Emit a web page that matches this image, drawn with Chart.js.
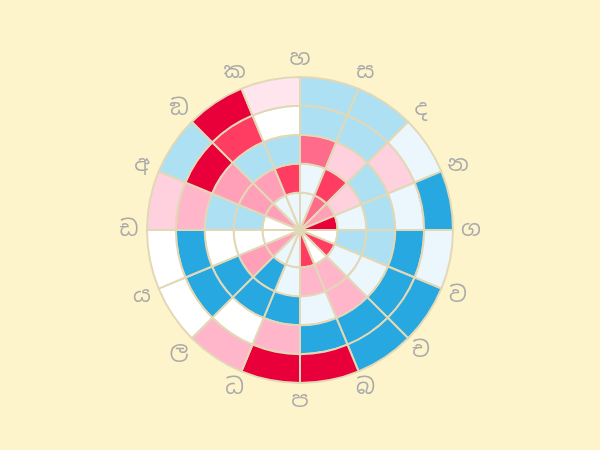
<!DOCTYPE html>
<html>
<head>
<meta charset="utf-8">
<script src="https://cdn.jsdelivr.net/npm/chart.js@4.4.1/dist/chart.umd.min.js"></script>
<style>
  html, body { margin: 0; padding: 0; background: #fef4cc; }
  #wrap { width: 600px; height: 450px; }
</style>
</head>
<body>
<div id="wrap"><canvas id="chart"></canvas></div>
<script>
// sector labels, clockwise from the top
const sectors = ['හ', 'ස', 'ද', 'න', 'ග', 'ව', 'ච', 'බ', 'ප', 'ධ', 'ල', 'ය', 'ඩ', 'අ', 'ඞ', 'ක'];

// cell levels per ring (-7 .. 3), outer ring first
const ring5 = [2, 2, 1, 3, 1, 3, 3, -7, -7, -3, 0, 0, -2, 2, -7, -1];
const ring4 = [2, 2, -2, 1, 3, 3, 3, 3, -3, 0, 3, 3, -3, -7, -6, 0];
const ring3 = [-5, -2, 2, 2, 2, 1, -3, 1, 3, 3, 3, 0, 2, -4, 2, 2];
const ring2 = [1, -6, -2, 1, 2, 1, -3, -3, 1, 3, -4, 0, 2, -4, -4, -6];
const ring1 = [1, -5, -4, -7, 0, -6, 0, -6, 1, 1, -4, 0, 0, -4, 1, 1];

// colour for each level, from -7 up to 3
const levelColors = ['#e9003a', '#ff3d63', '#ff6b8b', '#ff9fb8', '#ffb6ca', '#ffd0de',
                     '#ffe6ee', '#ffffff', '#ebf6fd', '#aee0f4', '#27a8e0'];

function ringDataset(vals, weight) {
    return {
        data: vals.map(() => 1),
        backgroundColor: vals.map(v => levelColors[v + 7]),
        borderColor: '#e2d8b6',
        borderWidth: 2,
        weight: weight
    };
}

// labels round the outside, one on each sector line
const sectorLabels = {
    id: 'sectorLabels',
    afterDraw(chart) {
        let meta = chart.getDatasetMeta(0);
        if (!meta.data.length) return;
        let arc = meta.data[0];
        let ctx = chart.ctx;
        let r = arc.outerRadius + 18;
        ctx.save();
        ctx.fillStyle = '#aaaaaa';
        ctx.font = '22px "Noto Sans Sinhala", "Noto Sans", sans-serif';
        ctx.textAlign = 'center';
        ctx.textBaseline = 'middle';
        sectors.forEach(function(label, i) {
            let a = meta.data[i].startAngle;
            ctx.fillText(label, arc.x + Math.cos(a) * r, arc.y + Math.sin(a) * r);
        });
        ctx.restore();
    }
};

new Chart(document.getElementById('chart'), {
    type: 'doughnut',
    data: {
        labels: sectors,
        datasets: [
            ringDataset(ring5, 1),
            ringDataset(ring4, 1),
            ringDataset(ring3, 1),
            ringDataset(ring2, 1),
            ringDataset(ring1, 1.3)
        ]
    },
    options: {
        responsive: true,
        maintainAspectRatio: false,
        animation: false,
        cutout: 0,
        layout: { padding: { top: 76, bottom: 66, left: 20, right: 20 } },
        plugins: {
            legend: { display: false },
            tooltip: { enabled: false }
        },
        events: []
    },
    plugins: [sectorLabels]
});
</script>
</body>
</html>
